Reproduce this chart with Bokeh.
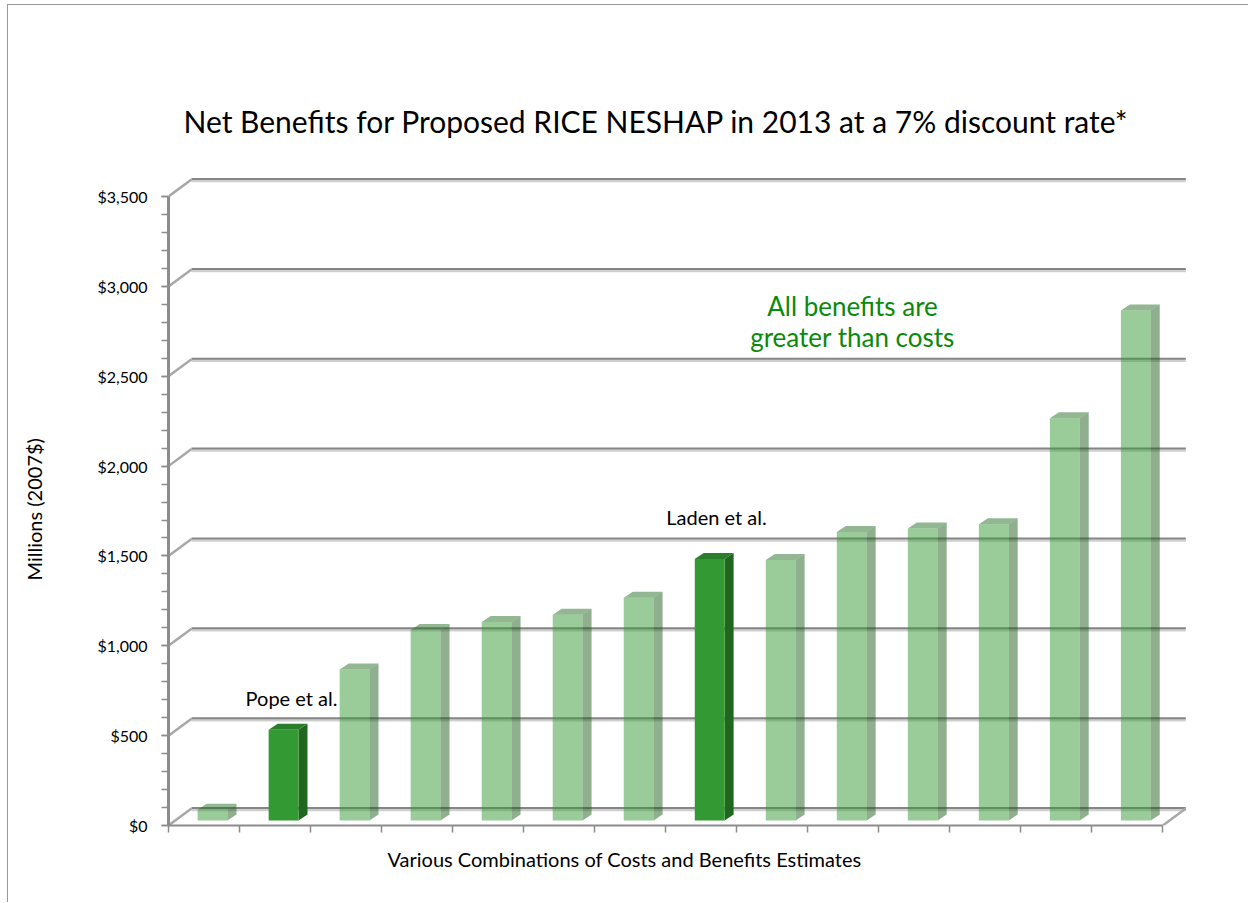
from bokeh.plotting import figure
from bokeh.models import (ColumnDataSource, NumeralTickFormatter, FixedTicker,
                          SingleIntervalTicker, Title)
from bokeh.embed import file_html
from bokeh.resources import INLINE
from bokeh.core.properties import value

# ---------------- data ----------------
combos = ["Combo %d" % (i + 1) for i in range(14)]
net_benefits = [60, 505, 840, 1060, 1105, 1145, 1240, 1455, 1450, 1605, 1625, 1648, 2238, 2838]
highlighted = [False, True, False, False, False, False, False, True, False, False, False, False, False, False]
y_tick_values = [0, 500, 1000, 1500, 2000, 2500, 3000, 3500]

title_text = "Net Benefits for Proposed RICE NESHAP in 2013 at a 7% discount rate*"
x_title = "Various Combinations of Costs and Benefits Estimates"
y_title = "Millions (2007$)"

# ---------------- geometry ----------------
OX, OY = 8, 5                    # page offset of the figure (css margin + border)
W, H = 1249 - OX, 903 - OY
FL, FR, FT, FB = 168, 1190, 170, 825   # frame edges in page pixels
MB_L, MB_R, MB_T, MB_B = FL - OX, W - (FR - OX), FT - OY, H - (FB - OY)
frame_w = FR - FL
frame_h = FB - FT
X_END = 14.39
Y_END = 3645.0
PX_X = X_END / frame_w
PX_Y = Y_END / frame_h

DX = 23 * PX_X
DY = 17 * PX_Y
BAR_OFF = 0.41
BAR_W = 0.42
SX = 9 * PX_X
SY = 6 * PX_Y
BASE = 5 * PX_Y
N = len(net_benefits)

FONT = "Lato"

p = figure(width=W, height=H, x_range=(0, X_END), y_range=(0, Y_END),
           output_backend="svg", toolbar_location=None,
           min_border_left=MB_L, min_border_right=MB_R,
           min_border_top=MB_T, min_border_bottom=MB_B)
p.styles = {"margin-left": "7px", "margin-top": "4px",
            "border-top": "1px solid #9a9a9a", "border-left": "1px solid #9a9a9a"}
p.xgrid.visible = False
p.ygrid.visible = False
p.outline_line_color = None

# ---------------- back wall gridlines ----------------
grid_xs = [[DX, N + DX] for v in y_tick_values]
grid_ys_dark = [[v + DY + 0.5 * PX_Y] * 2 for v in y_tick_values]
grid_ys_light = [[v + DY - 1.5 * PX_Y] * 2 for v in y_tick_values]
p.multi_line(grid_xs, grid_ys_light, line_color="#cfcfcf", line_width=2.5)
p.multi_line(grid_xs, grid_ys_dark, line_color="#858585", line_width=2)

diag_xs = [[0, DX] for v in y_tick_values] + [[N, N + DX]]
diag_ys = [[v, v + DY] for v in y_tick_values] + [[0, DY]]
p.multi_line(diag_xs, diag_ys, line_color="#a8a8a8", line_width=2.5)

# ---------------- 3-D bars ----------------
front = dict(left=[], right=[], bottom=[], top=[], color=[], alpha=[])
side = dict(xs=[], ys=[], color=[], alpha=[])
topf = dict(xs=[], ys=[], color=[], alpha=[])
for i, (v, hl) in enumerate(zip(net_benefits, highlighted)):
    xl = i + BAR_OFF
    xr = xl + BAR_W
    b = BASE
    t = BASE + v
    a = 1.0 if hl else 0.5
    front["left"].append(xl); front["right"].append(xr)
    front["bottom"].append(b); front["top"].append(t)
    front["color"].append("#339933"); front["alpha"].append(a)
    side["xs"].append([xr, xr + SX, xr + SX, xr])
    side["ys"].append([b, b + SY, t + SY, t])
    side["color"].append("#1f661f" if hl else "#1f5f1f"); side["alpha"].append(a)
    topf["xs"].append([xl, xl + SX, xr + SX, xr])
    topf["ys"].append([t, t + SY, t + SY, t])
    topf["color"].append("#2a7d2a" if hl else "#257025"); topf["alpha"].append(a)

p.patches("xs", "ys", source=ColumnDataSource(side), fill_color="color",
          fill_alpha="alpha", line_color=None)
p.patches("xs", "ys", source=ColumnDataSource(topf), fill_color="color",
          fill_alpha="alpha", line_color=None)
p.quad(left="left", right="right", bottom="bottom", top="top",
       source=ColumnDataSource(front), fill_color="color", fill_alpha="alpha",
       line_color=None)

# ---------------- axes ----------------
xa = p.xaxis[0]
xa.ticker = FixedTicker(ticks=list(range(N + 1)))
xa.major_label_overrides = {i: "" for i in range(N + 1)}
xa.bounds = (0, N)
xa.axis_line_color = "#8c8c8c"
xa.axis_line_width = 2
xa.major_tick_line_color = "#8c8c8c"
xa.major_tick_line_width = 1.5
xa.major_tick_out = 7
xa.major_tick_in = 0
xa.minor_tick_line_color = None
xa.major_label_standoff = 0

ya = p.yaxis[0]
ya.ticker = SingleIntervalTicker(interval=500, num_minor_ticks=5)
ya.bounds = (0, 3500)
ya.formatter = NumeralTickFormatter(format="$0,0")
ya.axis_line_color = "#8c8c8c"
ya.axis_line_width = 3
ya.major_tick_line_color = "#8c8c8c"
ya.minor_tick_line_color = "#8c8c8c"
ya.major_tick_line_width = 1.5
ya.minor_tick_line_width = 1.5
ya.major_tick_out = 7
ya.minor_tick_out = 7
ya.major_tick_in = 0
ya.minor_tick_in = 0
ya.major_label_standoff = 14
ya.major_label_text_font = FONT
ya.major_label_text_font_size = "16px"
ya.major_label_text_color = "#000000"

# ---------------- titles ----------------
p.add_layout(Title(text=title_text, align="left", offset=183 - FL,
                   text_font=FONT, text_font_size="30px",
                   text_font_style="normal", text_color="#000000",
                   standoff=64), "above")
p.add_layout(Title(text=x_title, align="left", offset=387 - FL,
                   text_font=FONT, text_font_size="20px",
                   text_font_style="normal", text_color="#000000",
                   standoff=24), "below")
# spacer between the tick labels and the vertical axis title
p.add_layout(Title(text=" ", text_font=FONT, text_font_size="20px", standoff=23), "left")
p.add_layout(Title(text=y_title, align="left", offset=FB - 580,
                   text_font=FONT, text_font_size="20px",
                   text_font_style="normal", text_color="#000000",
                   standoff=0), "left")

# ---------------- annotations in the plot ----------------
def px_to_x(px):
    return (px - FL) * PX_X

def py_to_y(py):
    return (FB - py) * PX_Y

ann = ColumnDataSource(dict(
    x=[px_to_x(291), px_to_x(716)],
    y=[py_to_y(697), py_to_y(516)],
    text=["Pope et al.", "Laden et al."]))
p.text("x", "y", text="text", source=ann, text_font=value(FONT),
       text_font_size="20px", text_align="center", text_baseline="middle",
       text_color="#000000")

green = ColumnDataSource(dict(
    x=[px_to_x(852), px_to_x(852)],
    y=[py_to_y(305), py_to_y(336)],
    text=["All benefits are", "greater than costs"]))
p.text("x", "y", text="text", source=green, text_font=value(FONT),
       text_font_size="26px", text_align="center", text_baseline="middle",
       text_color="#0a8a0a")

open("out.html", "w").write(file_html(p, INLINE))
